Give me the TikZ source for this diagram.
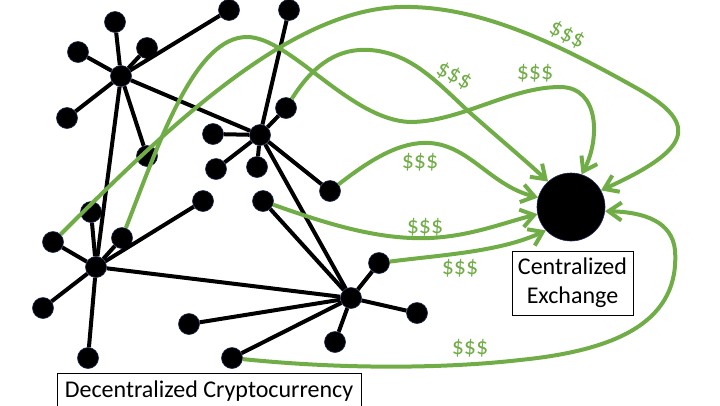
\documentclass[tikz,border=0pt]{standalone}
\usepackage{fontspec}
\setmainfont{Carlito}
\usetikzlibrary{arrows.meta}
\definecolor{ggreen}{HTML}{70AD47}
\definecolor{dotedge}{HTML}{1F2A55}
\tikzset{
  dot/.style={circle, fill=black, draw=dotedge, line width=0.6pt, minimum size=21pt, inner sep=0pt},
  bigdot/.style={circle, fill=black, draw=dotedge, line width=0.6pt, minimum size=68pt, inner sep=0pt},
  link/.style={line width=4pt, black},
  flow/.style={line width=4pt, ggreen, -{Straight Barb[length=13pt,width=18pt]}},
  money/.style={text=ggreen, font=\fontsize{24}{28}\selectfont, inner sep=0pt},
  labelbox/.style={draw=black, line width=0.8pt, font=\fontsize{24}{28.8}\selectfont, align=center, inner sep=0pt}
}
\begin{document}
\begin{tikzpicture}[x=1pt,y=-1pt]
\useasboundingbox (0,0) rectangle (720,405);
% hubs
\node[dot] (a) at (121,76) {};
\node[dot] (b) at (260,135) {};
\node[dot] (c) at (96,267) {};
\node[dot] (d) at (351,298) {};
% leaves of a
\node[dot] (a1) at (115,22) {};
\node[dot] (a2) at (78,52) {};
\node[dot] (a3) at (147,48) {};
\node[dot] (a4) at (229,10) {};
\node[dot] (a5) at (67,118) {};
\node[dot] (a6) at (147,156) {};
% leaves of b
\node[dot] (b1) at (289,10) {};
\node[dot] (b2) at (286,108) {};
\node[dot] (b3) at (213,134) {};
\node[dot] (b4) at (216,169) {};
\node[dot] (b5) at (257,167) {};
\node[dot] (b6) at (330,191) {};
% leaves of c
\node[dot] (c1) at (91,212) {};
\node[dot] (c2) at (53,242) {};
\node[dot] (c3) at (122,238) {};
\node[dot] (c4) at (43,308) {};
\node[dot] (c5) at (88,358) {};
\node[dot] (c6) at (203,201) {};
% leaves of d
\node[dot] (d1) at (379,263) {};
\node[dot] (d2) at (189,324) {};
\node[dot] (d3) at (335,342) {};
\node[dot] (d4) at (232,358) {};
\node[dot] (d5) at (417,313) {};
\node[dot] (d6) at (263,201) {};
% exchange
\node[bigdot] (ex) at (571,207) {};
% labels
\node[labelbox, minimum width=304pt, minimum height=36pt] (dec) at (209,391) {Decentralized Cryptocurrency};
\node[labelbox, minimum width=121pt, minimum height=64pt] (cen) at (572.5,283) {Centralized\\Exchange};
% black links
\foreach \h/\l in {a/a1,a/a2,a/a3,a/a4,a/a5,a/a6,b/b1,b/b2,b/b3,b/b4,b/b5,b/b6,c/c1,c/c2,c/c3,c/c4,c/c5,c/c6,d/d1,d/d2,d/d3,d/d4,d/d5,d/d6,a/b,a/c,c/d,b/d}
  \draw[link] (\h) -- (\l);
% green flows
\draw[flow] (c2) .. controls (170,125) and (290,10) .. (400,7) .. controls (480,5) and (560,45) .. (640,90) .. controls (700,125) and (690,150) .. (ex.29);
\draw[flow] (c3) .. controls (160,140) and (195,37) .. (247,37) .. controls (290,37) and (350,120) .. (410,122) .. controls (460,122) and (510,87) .. (560,87) .. controls (600,87) and (600,140) .. (ex.72);
\draw[flow] (b2) .. controls (315,62) and (340,48) .. (370,50) .. controls (410,53) and (435,80) .. (467,110) .. controls (495,135) and (525,160) .. (ex.132);
\draw[flow] (b6) .. controls (370,160) and (400,141) .. (430,143) .. controls (470,146) and (490,185) .. (ex.164);
\draw[flow] (d6) .. controls (330,225) and (380,240) .. (430,238) .. controls (470,236) and (500,224) .. (ex.192);
\draw[flow] (d1) .. controls (440,255) and (500,252) .. (ex.223);
\draw[flow] (d4) .. controls (350,370) and (450,368) .. (520,360) .. controls (620,350) and (680,320) .. (675,250) .. controls (672,222) and (645,212) .. (ex.-7);
% money labels
\node[money, rotate=-25] (m1) at (567,35) {\$\$\$};
\node[money] (m2) at (535,73) {\$\$\$};
\node[money, rotate=-27] (m3) at (454,76) {\$\$\$};
\node[money] (m4) at (420,162) {\$\$\$};
\node[money] (m5) at (425,227) {\$\$\$};
\node[money] (m6) at (460,268) {\$\$\$};
\node[money] (m7) at (470,348) {\$\$\$};
\end{tikzpicture}
\end{document}
